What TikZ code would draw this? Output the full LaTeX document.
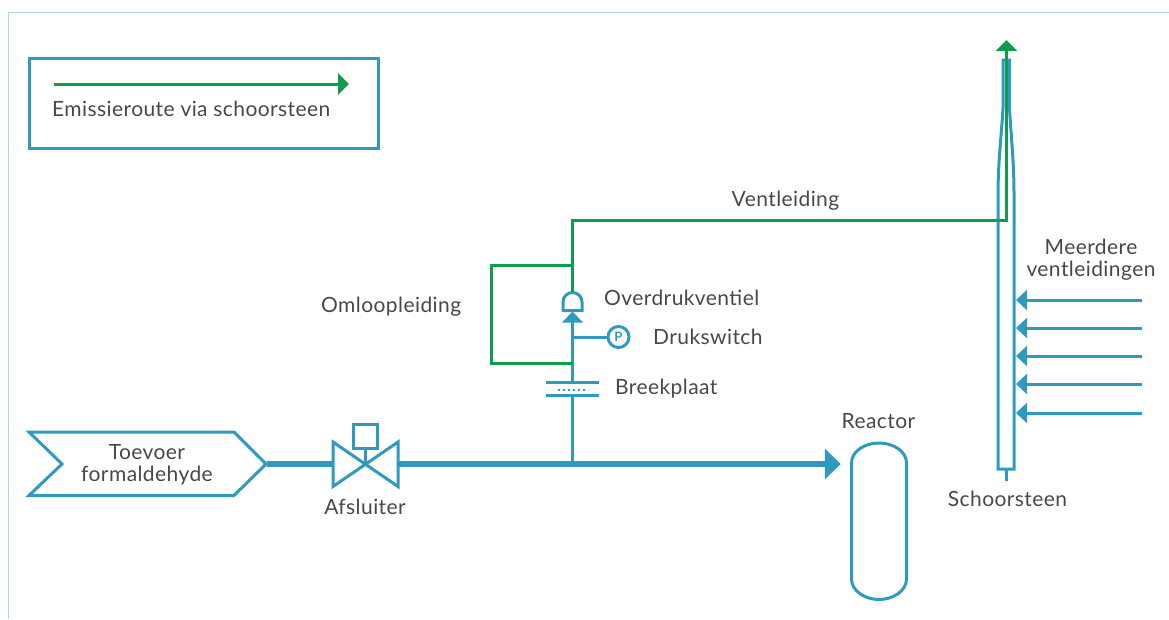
\documentclass[tikz,border=0pt]{standalone}
\usepackage{fontspec}
\setmainfont{Lato}[LetterSpace=2]
\usetikzlibrary{arrows.meta}
\definecolor{pipe}{HTML}{2F9ABF}
\definecolor{vent}{HTML}{129B4D}
\definecolor{frameblue}{HTML}{A8D5E8}
\definecolor{txt}{HTML}{48484A}
\tikzset{
  lbl/.style={font=\fontsize{21}{22}\selectfont,text=txt,inner sep=0pt,align=center},
  lblleft/.style={lbl,anchor=west},
  pipeline/.style={draw=pipe,line width=3pt},
  mainline/.style={draw=pipe,line width=6pt},
  ventline/.style={draw=vent,line width=3pt},
  point/.style={inner sep=0pt,minimum size=0pt},
  inarrow/.style={draw=pipe,line width=3pt,-{Triangle[length=11pt,width=20pt]}},
}
\begin{document}
\begin{tikzpicture}[x=1pt,y=-1pt,line join=miter]
\useasboundingbox (0,0) rectangle (1169,619);
% frame
\draw[frameblue,line width=1.2pt] (8.5,619) -- (8.5,12.5) -- (1169,12.5);
% legend
\node[draw=pipe,line width=3pt,minimum width=349pt,minimum height=90pt,inner sep=0pt] (legend) at (204,103) {};
\coordinate (la) at (54,84); \coordinate (lb) at (349,84);
\draw[draw=vent,line width=3pt,-{Triangle[length=11pt,width=21pt]}] (la) -- (lb);
\node[lblleft] (legendtext) at (52,109) {Emissieroute via schoorsteen};
% source
\node[lbl] (source) at (147,465) {Toevoer\\formaldehyde};
\draw[pipe,line width=3pt] (29,432) -- (234,432) -- (266,464) -- (234,495.5) -- (29,495.5) -- (62,464) -- cycle;
\coordinate (srcout) at (267,464);
% valve
\coordinate (valvec) at (365,464);
\coordinate (valvel) at (333,464);
\coordinate (valver) at (398,464);
\draw[pipeline] (333,442) -- (398,486.5) -- (398,442) -- (333,486.5) -- cycle;
\node[draw=pipe,line width=3pt,minimum size=24pt,inner sep=0pt] (actuator) at (365,436.5) {};
\draw[pipeline] (actuator.south) -- (valvec);
\node[lbl] (afsluiter) at (365,507) {Afsluiter};
% main pipe
\draw[mainline] (srcout) -- (valvel);
\node[point] (reactorin) at (841,464) {};
\coordinate (tee) at (572.5,464);
\draw[mainline,-{Triangle[length=16pt,width=30pt,sep=0pt]}] (valver) -- (reactorin);
% reactor
\draw[pipe,line width=3pt] (851.5,463) .. controls (851.5,451) and (865,443) .. (879,443)
  .. controls (893,443) and (906.5,451) .. (906.5,463) -- (906.5,579)
  .. controls (906.5,591) and (893,599.5) .. (879,599.5)
  .. controls (865,599.5) and (851.5,591) .. (851.5,579) -- cycle;
\node[lbl] (reactor) at (878.5,421.5) {Reactor};
% vertical line with rupture disc
\coordinate (disclow) at (572.5,396);
\coordinate (dischigh) at (572.5,382);
\draw[pipeline] (tee) -- (disclow);
\draw[pipe,line width=3pt] (545.5,395.5) -- (599,395.5);
\draw[pipe,line width=3pt] (545.5,382.5) -- (599,382.5);
\draw[pipe,line width=2pt,dash pattern=on 2pt off 3pt] (558,389.5) -- (588,389.5);
\draw[pipeline] (dischigh) -- (572.5,320);
\fill[pipe] (572.5,311.5) -- (583,322.5) -- (562,322.5) -- cycle;
\node[lblleft] (breek) at (615,389) {Breekplaat};
% relief valve
\draw[pipe,line width=3pt] (563,310.5) -- (563,302) arc[start angle=180,end angle=360,radius=9.5] -- (582,310.5) -- cycle;
\coordinate (valvetop) at (572.5,292);
\node[lblleft] (over) at (604,298) {Overdrukventiel};
% pressure switch
\node[circle,draw=pipe,line width=3pt,minimum size=21pt,inner sep=0pt,text=pipe,font=\fontsize{13}{13}\selectfont\bfseries] (switch) at (618.5,337) {P};
\coordinate (switchtee) at (572.5,337);
\draw[pipeline] (switchtee) -- (switch.west);
\node[lblleft] (druk) at (653,337) {Drukswitch};
% bypass
\coordinate (bypasstop) at (572.5,265);
\coordinate (bypassbot) at (572.5,363);
\draw[ventline] (bypasstop) -- (491.5,265) -- (491.5,363) -- (bypassbot);
\node[lblleft] (omloop) at (321,307) {Omloopleiding};
% stack
\draw[pipe,line width=3pt] (1003,60) -- (1009.5,60) -- (1009.5,108) .. controls (1010.5,130) and (1014,160) .. (1014,195)
  -- (1014,469) -- (998,469) -- (998,195) .. controls (998,160) and (1002,130) .. (1003,108) -- cycle;
\coordinate (stackbot) at (1006,469);
\coordinate (stacktail) at (1006,481);
\draw[pipeline] (stackbot) -- (stacktail);
\node[lbl] (schoorsteen) at (1007.5,499) {Schoorsteen};
% vent line
\coordinate (stacktop) at (1006.5,40);
\draw[ventline,-{Triangle[length=11pt,width=21pt]}] (valvetop) -- (572.5,220.5) -- (1006.5,220.5) -- (stacktop);
\node[lbl] (ventl) at (785.5,201) {Ventleiding};
% incoming
\foreach \y/\n in {300/a,328/b,356/c,384/d,413/e}{
  \coordinate (in\n) at (1142,\y);
  \coordinate (tip\n) at (1016,\y);
  \draw[inarrow] (in\n) -- (tip\n);
}
\node[lbl] (meer) at (1091,259.5) {Meerdere\\ventleidingen};
\end{tikzpicture}
\end{document}
